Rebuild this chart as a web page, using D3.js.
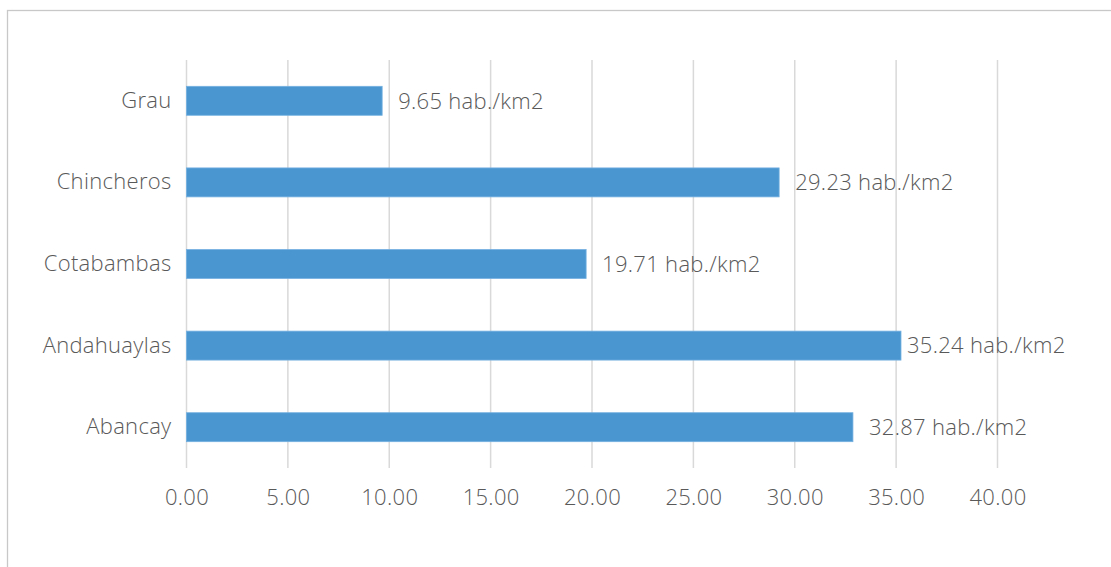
<!DOCTYPE html>
<html>
<head>
<meta charset="utf-8">
<script src="https://cdn.jsdelivr.net/npm/d3@7"></script>
<style>
	body { margin: 0; background: #fff; }
	text { font-family: "Open Sans", "Noto Sans", sans-serif; font-weight: 300; fill: #595959; letter-spacing: 0.3px; }
</style>
</head>
<body>
<svg id="chart" width="1111" height="567"></svg>
<script>
// density per province (hab./km2)
var categories = ['Grau', 'Chincheros', 'Cotabambas', 'Andahuaylas', 'Abancay'];
var values = [9.65, 29.23, 19.71, 35.24, 32.87];
var tickValues = [0, 5, 10, 15, 20, 25, 30, 35, 40];
var unit = ' hab./km2';

var width = 1111, height = 567;
var pad = {top: 60, left: 186.5, right: 113.5, bottom: 99};
var chart_width = width - pad.left - pad.right;
var chart_height = height - pad.top - pad.bottom;
var font_size = 22;

var svg = d3.select('#chart');

// outer frame
svg.append('rect')
	.attr('x', 7.5).attr('y', 10.5)
	.attr('width', 1120).attr('height', 600)
	.attr('fill', 'none').attr('stroke', '#c8c8c8').attr('stroke-width', 1.3);

var x_scale = d3.scaleLinear().domain([0, 40]).range([0, chart_width]);
var y_scale = d3.scaleBand().domain(categories).range([0, chart_height]).paddingInner(0.645).paddingOuter(0.3225);

var g = svg.append('g').attr('transform', 'translate(' + pad.left + ',' + pad.top + ')');

// vertical grid
g.selectAll('line.grid').data(tickValues).enter().append('line')
	.attr('class', 'grid')
	.attr('x1', function (d) {return x_scale(d);}).attr('x2', function (d) {return x_scale(d);})
	.attr('y1', 0).attr('y2', chart_height)
	.attr('stroke', '#d9d9d9').attr('stroke-width', 1.5);

// x axis labels
var x_axis = d3.axisBottom(x_scale).tickValues(tickValues).tickSize(0).tickPadding(21)
	.tickFormat(function (d) {return d.toFixed(2);});
var gx = g.append('g').attr('transform', 'translate(0,' + chart_height + ')').call(x_axis);
gx.select('.domain').remove();
gx.selectAll('text').attr('font-size', font_size).attr('font-family', null).attr('fill', '#595959');

// y axis labels
var y_axis = d3.axisLeft(y_scale).tickSize(0).tickPadding(15);
var gy = g.append('g').call(y_axis);
gy.select('.domain').remove();
gy.selectAll('text').attr('font-size', font_size).attr('font-family', null).attr('fill', '#595959');

var rows = categories.map(function (c, i) {return {cat: c, val: values[i]};});

// bars
g.selectAll('rect.bar').data(rows).enter().append('rect')
	.attr('class', 'bar')
	.attr('x', x_scale(0))
	.attr('y', function (d) {return y_scale(d.cat);})
	.attr('width', function (d) {return x_scale(d.val) - x_scale(0);})
	.attr('height', y_scale.bandwidth())
	.attr('fill', '#4a96d0')
	.attr('stroke', '#74b0e0').attr('stroke-width', 0.8);

// data labels (Andahuaylas label sits closer to its bar in the original)
var labelGap = {Andahuaylas: 6};
g.selectAll('text.val').data(rows).enter().append('text')
	.attr('class', 'val')
	.attr('x', function (d) {return x_scale(d.val) + (labelGap[d.cat] !== undefined ? labelGap[d.cat] : 16);})
	.attr('y', function (d) {return y_scale(d.cat) + y_scale.bandwidth() / 2;})
	.attr('dy', '0.35em')
	.attr('font-size', font_size)
	.text(function (d) {return d.val.toFixed(2) + unit;});
</script>
</body>
</html>
